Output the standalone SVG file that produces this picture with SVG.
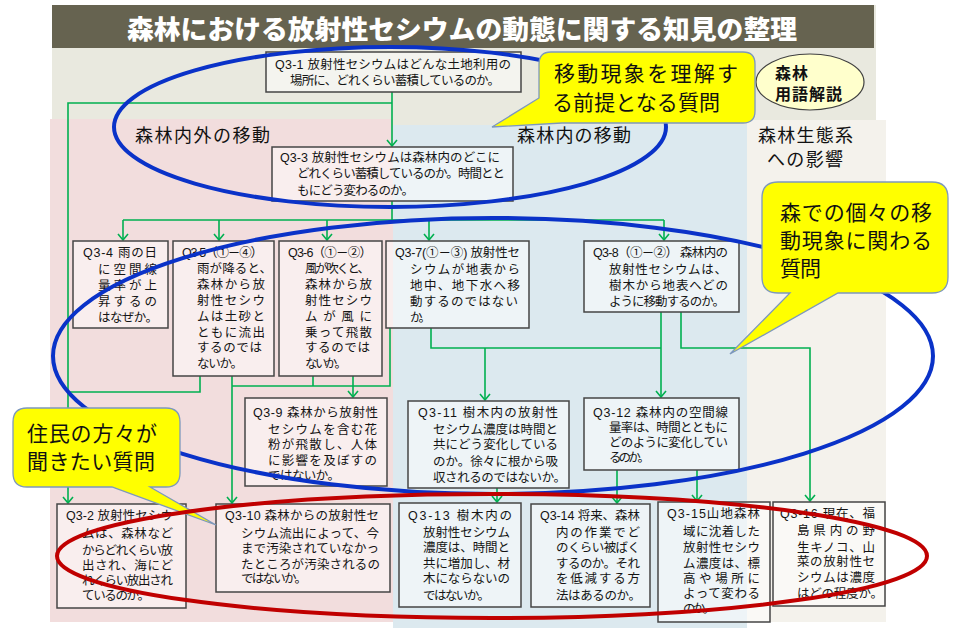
<svg xmlns="http://www.w3.org/2000/svg" width="961" height="634" viewBox="0 0 961 634">
<style>
.t{font-family:"Liberation Sans","Noto Sans CJK JP",sans-serif;font-size:12.5px;fill:#141414}
.h{font-family:"Noto Sans CJK JP","Noto Sans",sans-serif;font-size:18px;fill:#111}
.ct{font-family:"Noto Sans CJK JP","Noto Sans",sans-serif;font-size:21px;fill:#111}
.g{font-family:"Liberation Sans","Noto Sans CJK JP",sans-serif;font-size:16px;font-weight:700;fill:#111}
.box{fill:#fff;fill-opacity:.5;stroke:#454545;stroke-width:1.5}
.c{stroke:#00b050;stroke-width:1.6;fill:none}
.ar{marker-end:url(#ah)}
.call{fill:#ffff00;stroke:#7d98bd;stroke-width:1.3}
.ell{fill:none;stroke-width:4}
</style>
<defs>
<marker id="ah" viewBox="0 0 12 12" refX="11" refY="6" markerWidth="12" markerHeight="12" markerUnits="userSpaceOnUse" orient="auto">
<path d="M5,1 L11,6 L5,11" fill="none" stroke="#00b050" stroke-width="1.6"/>
</marker>
</defs>
<rect x="0" y="0" width="961" height="634" fill="#fff"/>
<g id="background">
<rect x="52" y="5" width="824" height="617" fill="#e9e9df"/>
<rect x="52" y="5" width="822" height="43" fill="#666350"/>
<rect x="50" y="119" width="343" height="503" fill="#f2dddd"/>
<rect x="393" y="125" width="354" height="503" fill="#dce9ef"/>
<rect x="747" y="120" width="139" height="502" fill="#f4f2ec"/>
<text x="462" y="39" text-anchor="middle" textLength="670" lengthAdjust="spacingAndGlyphs" style="font-family:'Noto Sans CJK JP','Noto Sans',sans-serif;font-size:26px;font-weight:900;fill:#fff">森林における放射性セシウムの動態に関する知見の整理</text>
<text class="h" x="135" y="142" textLength="135" lengthAdjust="spacing">森林内外の移動</text>
<text class="h" x="517" y="142" textLength="114" lengthAdjust="spacing">森林内の移動</text>
<text class="h" x="758" y="142" textLength="95" lengthAdjust="spacing">森林生態系</text>
<text class="h" x="767" y="166" textLength="76" lengthAdjust="spacing">への影響</text>
</g>
<g id="connectors">
<path class="c ar" d="M392,92 V146"/>
<path class="c ar" d="M392,103 H68 V503"/>
<path class="c" d="M392,201 V220 M123,220 H664"/>
<path class="c ar" d="M123,220 V240"/>
<path class="c ar" d="M219,220 V240"/>
<path class="c ar" d="M327,220 V240"/>
<path class="c ar" d="M429,220 V240"/>
<path class="c ar" d="M664,220 V240"/>
<path class="c" d="M200,376 V392 H68"/>
<path class="c ar" d="M232,376 V503"/>
<path class="c" d="M232,386 H390 V328 M313,376 V386"/>
<path class="c ar" d="M353,376 V397"/>
<path class="c" d="M431,328 V348 H661"/>
<path class="c ar" d="M661,312 V397"/>
<path class="c ar" d="M485,348 V400"/>
<path class="c ar" d="M681,312 V348 H810 V501"/>
<path class="c ar" d="M497,488 V502"/>
<path class="c ar" d="M617,470 V503"/>
<path class="c ar" d="M697,470 V501"/>
</g>
<g id="q3-1">
<rect class="box" x="266" y="52" width="255" height="40"/>
<text class="t" x="275" y="69" textLength="236" lengthAdjust="spacing">Q3-1  放射性セシウムはどんな土地利用の</text>
<text class="t" x="290" y="85" textLength="210" lengthAdjust="spacing">場所に、どれくらい蓄積しているのか。</text>
</g>
<g id="q3-3">
<rect class="box" x="272" y="147" width="241" height="54"/>
<text class="t" x="280" y="162" textLength="220" lengthAdjust="spacing">Q3-3 放射性セシウムは森林内のどこに</text>
<text class="t" x="297" y="178" textLength="208" lengthAdjust="spacing">どれくらい蓄積しているのか。時間とと</text>
<text class="t" x="297" y="195" textLength="117" lengthAdjust="spacing">もにどう変わるのか。</text>
</g>
<g id="q3-4">
<rect class="box" x="73" y="241" width="95" height="87"/>
<text class="t" x="83" y="257" textLength="74" lengthAdjust="spacing">Q3-4 雨の日</text>
<text class="t" x="98" y="274" textLength="59" lengthAdjust="spacing">に空間線</text>
<text class="t" x="98" y="290" textLength="59" lengthAdjust="spacing">量率が上</text>
<text class="t" x="98" y="306" textLength="59" lengthAdjust="spacing">昇するの</text>
<text class="t" x="98" y="322" textLength="60" lengthAdjust="spacing">はなぜか。</text>
</g>
<g id="q3-5">
<rect class="box" x="173" y="241" width="101" height="135"/>
<text class="t" x="182" y="257" textLength="81" lengthAdjust="spacing">Q3-5（①－④）</text>
<text class="t" x="197" y="273" textLength="75" lengthAdjust="spacing">雨が降ると、</text>
<text class="t" x="197" y="289" textLength="68" lengthAdjust="spacing">森林から放</text>
<text class="t" x="197" y="305" textLength="68" lengthAdjust="spacing">射性セシウ</text>
<text class="t" x="197" y="321" textLength="68" lengthAdjust="spacing">ムは土砂と</text>
<text class="t" x="197" y="337" textLength="68" lengthAdjust="spacing">ともに流出</text>
<text class="t" x="197" y="352" textLength="65" lengthAdjust="spacing">するのでは</text>
<text class="t" x="197" y="368" textLength="46" lengthAdjust="spacing">ないか。</text>
</g>
<g id="q3-6">
<rect class="box" x="279" y="241" width="103" height="135"/>
<text class="t" x="288" y="257" textLength="84" lengthAdjust="spacing">Q3-6（①－②）</text>
<text class="t" x="305" y="273" textLength="65" lengthAdjust="spacing">風が吹くと、</text>
<text class="t" x="305" y="289" textLength="67" lengthAdjust="spacing">森林から放</text>
<text class="t" x="305" y="305" textLength="67" lengthAdjust="spacing">射性セシウ</text>
<text class="t" x="305" y="321" textLength="67" lengthAdjust="spacing">ムが風に</text>
<text class="t" x="305" y="337" textLength="67" lengthAdjust="spacing">乗って飛散</text>
<text class="t" x="305" y="352" textLength="65" lengthAdjust="spacing">するのでは</text>
<text class="t" x="305" y="368" textLength="42" lengthAdjust="spacing">ないか。</text>
</g>
<g id="q3-7">
<rect class="box" x="386" y="241" width="143" height="87"/>
<text class="t" x="395" y="257" textLength="125" lengthAdjust="spacing">Q3-7(①－③) 放射性セ</text>
<text class="t" x="410" y="274" textLength="110" lengthAdjust="spacing">シウムが地表から</text>
<text class="t" x="410" y="290" textLength="110" lengthAdjust="spacing">地中、地下水へ移</text>
<text class="t" x="410" y="306" textLength="108" lengthAdjust="spacing">動するのではない</text>
<text class="t" x="410" y="322" textLength="21" lengthAdjust="spacing">か。</text>
</g>
<g id="q3-8">
<rect class="box" x="584" y="241" width="155" height="71"/>
<text class="t" x="593" y="257" textLength="135" lengthAdjust="spacing">Q3-8（①－②） 森林内の</text>
<text class="t" x="609" y="274" textLength="118" lengthAdjust="spacing">放射性セシウムは、</text>
<text class="t" x="609" y="290" textLength="119" lengthAdjust="spacing">樹木から地表へどの</text>
<text class="t" x="609" y="306" textLength="116" lengthAdjust="spacing">ように移動するのか。</text>
</g>
<g id="q3-9">
<rect class="box" x="245" y="398" width="142" height="88"/>
<text class="t" x="253" y="417" textLength="125" lengthAdjust="spacing">Q3-9  森林から放射性</text>
<text class="t" x="268" y="434" textLength="109" lengthAdjust="spacing">セシウムを含む花</text>
<text class="t" x="268" y="449" textLength="109" lengthAdjust="spacing">粉が飛散し、人体</text>
<text class="t" x="268" y="465" textLength="109" lengthAdjust="spacing">に影響を及ぼすの</text>
<text class="t" x="268" y="480" textLength="72" lengthAdjust="spacing">ではないか。</text>
</g>
<g id="q3-11">
<rect class="box" x="408" y="401" width="161" height="87"/>
<text class="t" x="418" y="417" textLength="140" lengthAdjust="spacing">Q3-11  樹木内の放射性</text>
<text class="t" x="433" y="434" textLength="125" lengthAdjust="spacing">セシウム濃度は時間と</text>
<text class="t" x="433" y="449" textLength="125" lengthAdjust="spacing">共にどう変化している</text>
<text class="t" x="433" y="466" textLength="125" lengthAdjust="spacing">のか。徐々に根から吸</text>
<text class="t" x="433" y="482" textLength="133" lengthAdjust="spacing">収されるのではないか。</text>
</g>
<g id="q3-12">
<rect class="box" x="584" y="398" width="155" height="72"/>
<text class="t" x="593" y="417" textLength="135" lengthAdjust="spacing">Q3-12  森林内の空間線</text>
<text class="t" x="609" y="432" textLength="119" lengthAdjust="spacing">量率は、時間とともに</text>
<text class="t" x="609" y="447" textLength="119" lengthAdjust="spacing">どのように変化してい</text>
<text class="t" x="609" y="462" textLength="41" lengthAdjust="spacing">るのか。</text>
</g>
<g id="q3-2">
<rect class="box" x="57" y="504" width="129" height="104"/>
<text class="t" x="66" y="520" textLength="107" lengthAdjust="spacing">Q3-2  放射性セシウ</text>
<text class="t" x="82" y="538" textLength="91" lengthAdjust="spacing">ムは、森林など</text>
<text class="t" x="82" y="555" textLength="91" lengthAdjust="spacing">からどれくらい放</text>
<text class="t" x="82" y="570" textLength="91" lengthAdjust="spacing">出され、海にど</text>
<text class="t" x="82" y="585" textLength="91" lengthAdjust="spacing">れくらい放出され</text>
<text class="t" x="82" y="600" textLength="68" lengthAdjust="spacing">ているのか。</text>
</g>
<g id="q3-10">
<rect class="box" x="216" y="504" width="174" height="88"/>
<text class="t" x="225" y="520" textLength="154" lengthAdjust="spacing">Q3-10  森林からの放射性セ</text>
<text class="t" x="241" y="538" textLength="138" lengthAdjust="spacing">シウム流出によって、今</text>
<text class="t" x="241" y="553" textLength="138" lengthAdjust="spacing">まで汚染されていなかっ</text>
<text class="t" x="241" y="569" textLength="139" lengthAdjust="spacing">たところが汚染されるの</text>
<text class="t" x="241" y="583" textLength="66" lengthAdjust="spacing">ではないか。</text>
</g>
<g id="q3-13">
<rect class="box" x="399" y="503" width="122" height="104"/>
<text class="t" x="408" y="520" textLength="104" lengthAdjust="spacing">Q3-13  樹木内の</text>
<text class="t" x="423" y="537" textLength="87" lengthAdjust="spacing">放射性セシウム</text>
<text class="t" x="423" y="552" textLength="87" lengthAdjust="spacing">濃度は、時間と</text>
<text class="t" x="423" y="568" textLength="87" lengthAdjust="spacing">共に増加し、材</text>
<text class="t" x="423" y="583" textLength="87" lengthAdjust="spacing">木にならないの</text>
<text class="t" x="423" y="600" textLength="67" lengthAdjust="spacing">ではないか。</text>
</g>
<g id="q3-14">
<rect class="box" x="531" y="504" width="119" height="103"/>
<text class="t" x="540" y="520" textLength="100" lengthAdjust="spacing">Q3-14 将来、森林</text>
<text class="t" x="556" y="537" textLength="84" lengthAdjust="spacing">内の作業でど</text>
<text class="t" x="556" y="552" textLength="84" lengthAdjust="spacing">のくらい被ばく</text>
<text class="t" x="556" y="568" textLength="84" lengthAdjust="spacing">するのか。それ</text>
<text class="t" x="556" y="583" textLength="84" lengthAdjust="spacing">を低減する方</text>
<text class="t" x="556" y="600" textLength="85" lengthAdjust="spacing">法はあるのか。</text>
</g>
<g id="q3-15">
<rect class="box" x="658" y="502" width="112" height="120"/>
<text class="t" x="667" y="518" textLength="93" lengthAdjust="spacing">Q3-15山地森林</text>
<text class="t" x="683" y="536" textLength="77" lengthAdjust="spacing">域に沈着した</text>
<text class="t" x="683" y="552" textLength="77" lengthAdjust="spacing">放射性セシウ</text>
<text class="t" x="683" y="568" textLength="77" lengthAdjust="spacing">ム濃度は、標</text>
<text class="t" x="683" y="583" textLength="77" lengthAdjust="spacing">高や場所に</text>
<text class="t" x="683" y="598" textLength="77" lengthAdjust="spacing">よって変わる</text>
<text class="t" x="683" y="613" textLength="32" lengthAdjust="spacing">のか。</text>
</g>
<g id="q3-16">
<rect class="box" x="773" y="502" width="112" height="104"/>
<text class="t" x="780" y="518" textLength="95" lengthAdjust="spacing">Q3-16  現在、福</text>
<text class="t" x="797" y="535" textLength="78" lengthAdjust="spacing">島県内の野</text>
<text class="t" x="797" y="552" textLength="78" lengthAdjust="spacing">生キノコ、山</text>
<text class="t" x="797" y="566" textLength="78" lengthAdjust="spacing">菜の放射性セ</text>
<text class="t" x="797" y="582" textLength="78" lengthAdjust="spacing">シウムは濃度</text>
<text class="t" x="797" y="598" textLength="86" lengthAdjust="spacing">はどの程度か。</text>
</g>
<g id="glossary">
<ellipse cx="810" cy="82" rx="54" ry="28" fill="#ffffcc" stroke="#404040" stroke-width="1.2"/>
<text class="g" x="775" y="79" textLength="33" lengthAdjust="spacing">森林</text>
<text class="g" x="775" y="100" textLength="67" lengthAdjust="spacing">用語解説</text>
</g>
<g id="highlight-ellipses">
<ellipse class="ell" cx="390" cy="127" rx="276" ry="80" stroke="#0a32c8"/>
<ellipse class="ell" cx="493" cy="356" rx="440" ry="138" stroke="#0a32c8"/>
</g>
<g id="callout-premise">
<path class="call" d="M551,52 H743 Q755,52 755,64 V111 Q755,123 743,123 H562 L492,127 L539,98 V64 Q539,52 551,52 Z"/>
<text class="ct" x="554" y="81" textLength="184" lengthAdjust="spacing">移動現象を理解す</text>
<text class="ct" x="552" y="110" textLength="168" lengthAdjust="spacing">る前提となる質問</text>
</g>
<g id="callout-movement">
<path class="call" d="M778,182 H932 Q948,182 948,198 V277 Q948,293 932,293 H838 L730,354 L790,293 H778 Q762,293 762,277 V198 Q762,182 778,182 Z"/>
<text class="ct" x="780" y="220" textLength="152" lengthAdjust="spacing">森での個々の移</text>
<text class="ct" x="780" y="248" textLength="152" lengthAdjust="spacing">動現象に関わる</text>
<text class="ct" x="780" y="276" textLength="41" lengthAdjust="spacing">質問</text>
</g>
<g id="callout-residents">
<path class="call" d="M27,408 H166 Q180,408 180,422 V473 Q180,487 166,487 H150 L216,525 L112,487 H27 Q13,487 13,473 V422 Q13,408 27,408 Z"/>
<text class="ct" x="27" y="441" textLength="130" lengthAdjust="spacing">住民の方々が</text>
<text class="ct" x="27" y="469" textLength="128" lengthAdjust="spacing">聞きたい質問</text>
</g>
<g id="resident-ellipse">
<ellipse class="ell" cx="492" cy="556" rx="435" ry="62" stroke="#c00000"/>
</g>
</svg>
